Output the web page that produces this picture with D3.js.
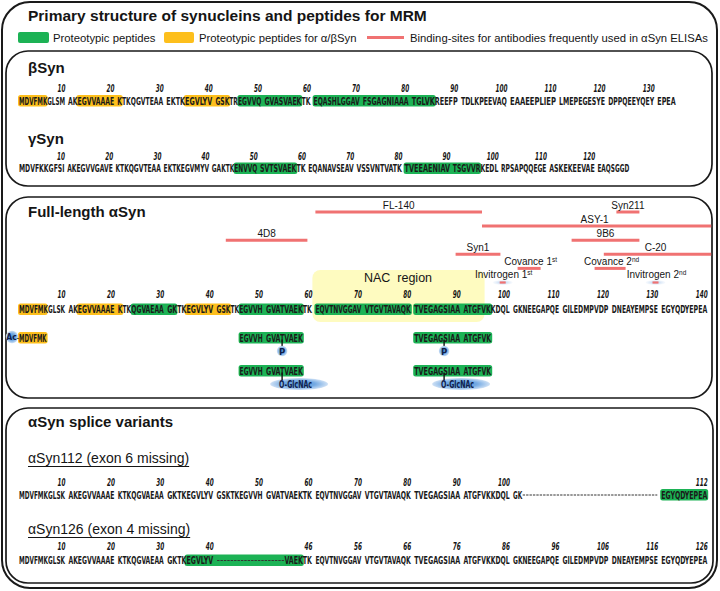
<!DOCTYPE html>
<html><head><meta charset="utf-8">
<script src="https://cdn.jsdelivr.net/npm/d3@7"></script>
<style>body{margin:0;background:#fff}svg{display:block}</style>
</head><body>
<svg id="c" width="720" height="591"></svg>
<script>
// ---------------- DATA ----------------
const titleText = "Primary structure of synucleins and peptides for MRM";
const legendLabels = ["Proteotypic peptides", "Proteotypic peptides for \u03b1/\u03b2Syn", "Binding-sites for antibodies frequently used in \u03b1Syn ELISAs"];

const betaBlocks  = "MDVFMKGLSM AKEGVVAAAE KTKQGVTEAA EKTKEGVLYV GSKTREGVVQ GVASVAEKTK EQASHLGGAV FSGAGNIAAA TGLVKREEFP TDLKPEEVAQ EAAEEPLIEP LMEPEGESYE DPPQEEYQEY EPEA".split(" ");
const gammaBlocks = "MDVFKKGFSI AKEGVVGAVE KTKQGVTEAA EKTKEGVMYV GAKTKENVVQ SVTSVAEKTK EQANAVSEAV VSSVNTVATK TVEEAENIAV TSGVVRKEDL RPSAPQQEGE ASKEKEEVAE EAQSGGD".split(" ");
const alphaBlocks = "MDVFMKGLSK AKEGVVAAAE KTKQGVAEAA GKTKEGVLYV GSKTKEGVVH GVATVAEKTK EQVTNVGGAV VTGVTAVAQK TVEGAGSIAA ATGFVKKDQL GKNEEGAPQE GILEDMPVDP DNEAYEMPSE EGYQDYEPEA".split(" ");
const syn112Blocks = "MDVFMKGLSK AKEGVVAAAE KTKQGVAEAA GKTKEGVLYV GSKTKEGVVH GVATVAEKTK EQVTNVGGAV VTGVTAVAQK TVEGAGSIAA ATGFVKKDQL GK-------- ---------- ---------- EGYQDYEPEA".split(" ");
const syn126Blocks = "MDVFMKGLSK AKEGVVAAAE KTKQGVAEAA GKTKEGVLYV ---------- ----VAEKTK EQVTNVGGAV VTGVTAVAQK TVEGAGSIAA ATGFVKKDQL GKNEEGAPQE GILEDMPVDP DNEAYEMPSE EGYQDYEPEA".split(" ");

const betaTicks  = [10,20,30,40,50,60,70,80,90,100,110,120,130];
const gammaTicks = [10,20,30,40,50,60,70,80,90,100,110,120];
const alphaTicks = [10,20,30,40,50,60,70,80,90,100,110,120,130,140];
const syn112TickLabels = ["10","20","30","40","50","60","70","80","90","100","112"];
const syn112TickPos    = [10,20,30,40,50,60,70,80,90,100,140];
const syn126TickLabels = ["10","20","30","40","46","56","66","76","86","96","106","116","126"];
const syn126TickPos    = [10,20,30,40,60,70,80,90,100,110,120,130,140];

// highlighted peptides: [start, end, kind]  kind: "g" proteotypic, "y" alpha/beta
const betaPeptides  = [[1,6,"y"],[13,21,"y"],[35,43,"y"],[46,58,"g"],[61,85,"g"]];
const gammaPeptides = [[46,58,"g"],[81,96,"g"]];
const alphaPeptides = [[1,6,"y"],[13,21,"y"],[24,32,"g"],[35,43,"y"],[46,58,"g"],[61,80,"g"],[81,96,"g"]];
const syn112Peptides = [[131,140,"g"]];
const syn126Peptides = [[35,58,"g"]];

// modified peptides
const acPeptide = [1,6];
const modPeptides = [[46,58],[81,96]];
const modSites = [54,87];
const modLabels = ["P","O-GlcNAc"];

// NAC region
const nacRange = [61,95];

// antibody binding sites
const abNames  = ["FL-140","Syn211","ASY-1","4D8","9B6","Syn1","C-20","Covance 1","Covance 2","Invitrogen 1","Invitrogen 2"];
const abSup    = ["","","","","","","","st","nd","st","nd"];
const abStart  = [61,122,95,43,113,90,120,102,118,99,130];
const abEnd    = [94,126,140,59,126,98,140,106,123,99,130];
const abLevel  = [0,0,1,2,2,3,3,4,4,5,5];

// ---------------- STYLE ----------------
const FONT = "'Liberation Sans', Arial, sans-serif";
const SEQF = "'Liberation Sans Narrow', 'DejaVu Sans Condensed', sans-serif";
const GREEN = "#1cb255", YELLOW = "#fdbf1c", RED = "#f07272", INK = "#151515";
const colorOf = k => k === "g" ? GREEN : YELLOW;

const svg = d3.select("#c");
const defs = svg.append("defs");
const rg = defs.append("radialGradient").attr("id","blueBlob");
rg.append("stop").attr("offset","0%").attr("stop-color","#4f92d8");
rg.append("stop").attr("offset","55%").attr("stop-color","#74aae3");
rg.append("stop").attr("offset","100%").attr("stop-color","#cfe1f5");
const rg2 = defs.append("radialGradient").attr("id","halo");
rg2.append("stop").attr("offset","0%").attr("stop-color","#a9c8ee").attr("stop-opacity",1);
rg2.append("stop").attr("offset","100%").attr("stop-color","#dbe8f7").attr("stop-opacity",0.2);

// ---------------- FRAMES ----------------
svg.append("rect").attr("x",2).attr("y",2).attr("width",715).attr("height",586).attr("rx",28)
  .attr("fill","none").attr("stroke","#1a1a1a").attr("stroke-width",2);
const panels = [[6,51,706,135],[6,197,706,201],[6,408,707,175]];
svg.selectAll("rect.panel").data(panels).join("rect").attr("class","panel")
  .attr("x",d=>d[0]).attr("y",d=>d[1]).attr("width",d=>d[2]).attr("height",d=>d[3]).attr("rx",22)
  .attr("fill","none").attr("stroke","#1a1a1a").attr("stroke-width",1.7);

// ---------------- TITLE & LEGEND ----------------
svg.append("text").attr("x",28).attr("y",21).attr("font-family",FONT).attr("font-weight","bold")
  .attr("font-size",15.5).attr("fill",INK).text(titleText);
const lg = svg.append("g");
lg.append("rect").attr("x",18).attr("y",32).attr("width",31).attr("height",11).attr("rx",2).attr("fill",GREEN);
lg.append("rect").attr("x",164).attr("y",32).attr("width",30).attr("height",11).attr("rx",2).attr("fill",YELLOW);
lg.append("line").attr("x1",367).attr("x2",404).attr("y1",37.5).attr("y2",37.5).attr("stroke",RED).attr("stroke-width",3);
lg.selectAll("text").data(legendLabels).join("text")
  .attr("x",(d,i)=>[53,199,410][i]).attr("y",41.5).attr("font-family",FONT).attr("font-size",11.3)
  .attr("fill",INK).text(d=>d);

// ---------------- HELPERS ----------------
function grid(P, w, x0) {
  const gapFrac = (P - 10*w)/w;
  const xs = d3.scaleLinear().domain([0, 10 + gapFrac]).range([x0, x0 + P]);
  const slot = i => (i-1) + Math.floor((i-1)/10)*gapFrac;
  return { w, L: i => xs(slot(i)), R: i => xs(slot(i)+1), C: i => xs(slot(i)+0.5) };
}
// place texts, horizontally scaled to an exact width
function fitTexts(g, data, o) {
  const sel = g.selectAll(null).data(data).join("text")
    .attr("x", 0).attr("y", 0).attr("text-anchor", o.anchor || "start")
    .attr("font-family", o.family || SEQF).attr("font-size", o.size || 11)
    .attr("font-weight", o.weight || "normal").attr("font-style", o.style || "normal")
    .attr("fill", o.fill || INK).text(o.text);
  sel.each(function(d, i) {
    const L = this.getComputedTextLength() || 1;
    const s = o.width(d, i) / L;
    d3.select(this).attr("transform", `translate(${o.x(d,i)},${o.y}) scale(${s},1)`);
  });
  return sel;
}
function drawBoxes(g, peps, gr, base) {
  g.selectAll(null).data(peps).join("rect")
    .attr("x", d => gr.L(d[0]) - 1).attr("width", d => gr.R(d[1]) - gr.L(d[0]) + 2)
    .attr("y", base - 9.5).attr("height", 11.5).attr("rx", 2.5)
    .attr("fill", d => colorOf(d[2]));
}
function seqRuns(blocks, keep) {
  const runs = [], dashRuns = [];
  blocks.forEach((b, k) => {
    let i = 0;
    while (i < b.length) {
      const isDash = b[i] === "-";
      let j = i; while (j < b.length && (b[j] === "-") === isDash) j++;
      const start = k*10 + i + 1, end = k*10 + j;
      if (isDash) {
        const last = dashRuns[dashRuns.length-1];
        if (last && last[1] === start - 1) last[1] = end; else dashRuns.push([start, end]);
      } else if (keep) {
        const a = Math.max(start, keep[0]), e = Math.min(end, keep[1]);
        if (a <= e) runs.push({ start: a, text: b.slice(a - k*10 - 1, e - k*10) });
      } else runs.push({ start, text: b.slice(i, j) });
      i = j;
    }
  });
  return { runs, dashRuns };
}
function drawSeq(g, blocks, gr, base, keep) {
  const { runs, dashRuns } = seqRuns(blocks, keep);
  fitTexts(g, runs, { x: d => gr.L(d.start), y: base, width: d => d.text.length * gr.w,
    size: 11.2, weight: "bold", fill: "#1a1a1a", text: d => d.text });
  if (!keep) g.selectAll(null).data(dashRuns).join("line")
    .attr("x1", d => gr.L(d[0]) + 0.5).attr("x2", d => gr.R(d[1]) - 0.5)
    .attr("y1", base - 3.5).attr("y2", base - 3.5)
    .attr("stroke", "#333").attr("stroke-width", 1).attr("stroke-dasharray", "2.4,1");
}
function drawTicks(g, labels, pos, gr, base) {
  fitTexts(g, labels, { x: (d,i) => gr.R(pos[i]) + 0.5, y: base, anchor: "end",
    width: d => String(d).length * 4.0, size: 10, weight: "bold", style: "italic", text: d => d });
}
function sectionLabel(txt, y) {
  svg.append("text").attr("x",28).attr("y",y).attr("font-family",FONT).attr("font-weight","bold")
    .attr("font-size",15).attr("fill",INK).text(txt);
}

// ---------------- βSyn / γSyn ----------------
const gB = grid(49.1, 4.6, 19), gG = grid(48.2, 4.55, 19), gA = grid(49.4, 4.6, 19);
sectionLabel("\u03b2Syn", 73);
const bg = svg.append("g");
drawBoxes(bg, betaPeptides, gB, 104.5);
drawTicks(bg, betaTicks, betaTicks, gB, 92);
drawSeq(bg, betaBlocks, gB, 104.5);

sectionLabel("\u03b3Syn", 144);
const gg = svg.append("g");
drawBoxes(gg, gammaPeptides, gG, 172);
drawTicks(gg, gammaTicks, gammaTicks, gG, 159.6);
drawSeq(gg, gammaBlocks, gG, 172);

// ---------------- Full-length αSyn ----------------
sectionLabel("Full-length \u03b1Syn", 217);
const ag = svg.append("g");
ag.append("rect").attr("x", gA.L(nacRange[0]) - 3).attr("width", gA.R(nacRange[1]) - gA.L(nacRange[0]) + 1)
  .attr("y", 270).attr("height", 52).attr("rx", 8).attr("fill", "#fefbc0");
ag.append("text").attr("x", (gA.L(nacRange[0]) + gA.R(nacRange[1]))/2 - 3).attr("y", 282)
  .attr("text-anchor","middle").attr("font-family",FONT).attr("font-size",12.5).attr("fill",INK)
  .attr("xml:space","preserve").text("NAC  region");

// antibodies
const ly = d3.scaleLinear().domain([0,5]).range([212,282.5]);
const ab = abNames.map((n,i)=>({n, sup:abSup[i], s:abStart[i], e:abEnd[i], lv:abLevel[i], pt: abStart[i]===abEnd[i]}));
const abg = ag.append("g");
abg.selectAll("ellipse").data(ab.filter(d=>d.pt)).join("ellipse")
  .attr("cx", d=>gA.C(d.s)).attr("cy", d=>ly(d.lv)).attr("rx", 10).attr("ry", 2.6).attr("fill","url(#halo)");
abg.selectAll("line").data(ab).join("line")
  .attr("x1", d=> d.pt ? gA.C(d.s)-3 : gA.L(d.s)).attr("x2", d=> d.pt ? gA.C(d.s)+3 : gA.R(d.e)+ (d.e===140?4:0))
  .attr("y1", d=>ly(d.lv)).attr("y2", d=>ly(d.lv))
  .attr("stroke", RED).attr("stroke-width", d=> d.pt ? 2.2 : 3);
const abt = abg.selectAll("text").data(ab).join("text")
  .attr("x", d=> d.pt ? gA.C(d.s)+1 : (gA.L(d.s)+gA.R(d.e))/2 + (d.sup?1.5:0))
  .attr("y", d=>ly(d.lv) - (d.pt?4.5:3)).attr("text-anchor","middle")
  .attr("font-family",FONT).attr("font-size",10).attr("fill",INK);
abt.append("tspan").text(d=>d.n);
abt.filter(d=>d.sup).append("tspan").attr("font-size",6.5).attr("dy",-3.5).text(d=>d.sup);

drawBoxes(ag, alphaPeptides, gA, 313);
drawTicks(ag, alphaTicks, alphaTicks, gA, 298);
drawSeq(ag, alphaBlocks, gA, 313);

// Ac-MDVFMK
const acg = svg.append("g");
drawBoxes(acg, [[acPeptide[0], acPeptide[1], "y"]], gA, 341.5);
drawSeq(acg, alphaBlocks, gA, 341.5, acPeptide);
acg.append("circle").attr("cx", gA.L(1) - 7).attr("cy", 337).attr("r", 6.2).attr("fill","url(#blueBlob)");
acg.append("text").attr("x", gA.L(1) - 7.5).attr("y", 340).attr("text-anchor","middle")
  .attr("font-family",SEQF).attr("font-weight","bold").attr("font-size",8.5).attr("fill","#10204a").text("Ac");
acg.append("text").attr("x", gA.L(1) - 1.2).attr("y", 340.5).attr("text-anchor","middle")
  .attr("font-family",SEQF).attr("font-size",8).attr("fill",INK).text("-");

// modified peptides (phospho / O-GlcNAc)
const rowBase = [341.5, 374.5];
modLabels.forEach((lab, r) => {
  const mg = svg.append("g");
  const base = rowBase[r];
  modPeptides.forEach((p, k) => {
    drawBoxes(mg, [[p[0], p[1], "g"]], gA, base);
    drawSeq(mg, alphaBlocks, gA, base, p);
    const sx = gA.C(modSites[k]);
    if (lab === "P") {
      mg.append("line").attr("x1",sx).attr("x2",sx).attr("y1",base-2).attr("y2",base+5).attr("stroke","#111").attr("stroke-width",1.4);
      mg.append("circle").attr("cx",sx).attr("cy",base+9.5).attr("r",5.3).attr("fill","url(#blueBlob)");
      mg.append("text").attr("x",sx).attr("y",base+13).attr("text-anchor","middle")
        .attr("font-family",SEQF).attr("font-weight","bold").attr("font-size",9.5).attr("fill","#10204a").text("P");
    } else {
      mg.append("ellipse").attr("cx",sx+17).attr("cy",base+9.5).attr("rx",29).attr("ry",6).attr("fill","url(#blueBlob)");
      mg.append("line").attr("x1",sx).attr("x2",sx).attr("y1",base-2).attr("y2",base+5.5).attr("stroke","#111").attr("stroke-width",1.4);
      fitTexts(mg, [lab], { x: () => sx - 3, y: base + 13.5, width: () => 33, size: 11, weight: "bold",
        fill: "#10204a", text: d => d });
    }
  });
});

// ---------------- Splice variants ----------------
sectionLabel("\u03b1Syn splice variants", 427);
function subTitle(txt, y) {
  const t = svg.append("text").attr("x",28).attr("y",y).attr("font-family",FONT)
    .attr("font-size",14).attr("fill",INK).text(txt);
  const len = t.node().getComputedTextLength();
  svg.append("line").attr("x1",28).attr("x2",28+len).attr("y1",y+3.5).attr("y2",y+3.5)
    .attr("stroke",INK).attr("stroke-width",1.1);
}
subTitle("\u03b1Syn112 (exon 6 missing)", 463);
const s1 = svg.append("g");
drawBoxes(s1, syn112Peptides, gA, 498.5);
drawTicks(s1, syn112TickLabels, syn112TickPos, gA, 485.8);
drawSeq(s1, syn112Blocks, gA, 498.5);

subTitle("\u03b1Syn126 (exon 4 missing)", 534);
const s2 = svg.append("g");
drawBoxes(s2, syn126Peptides, gA, 564);
drawTicks(s2, syn126TickLabels, syn126TickPos, gA, 550);
drawSeq(s2, syn126Blocks, gA, 564);
</script>
</body></html>
